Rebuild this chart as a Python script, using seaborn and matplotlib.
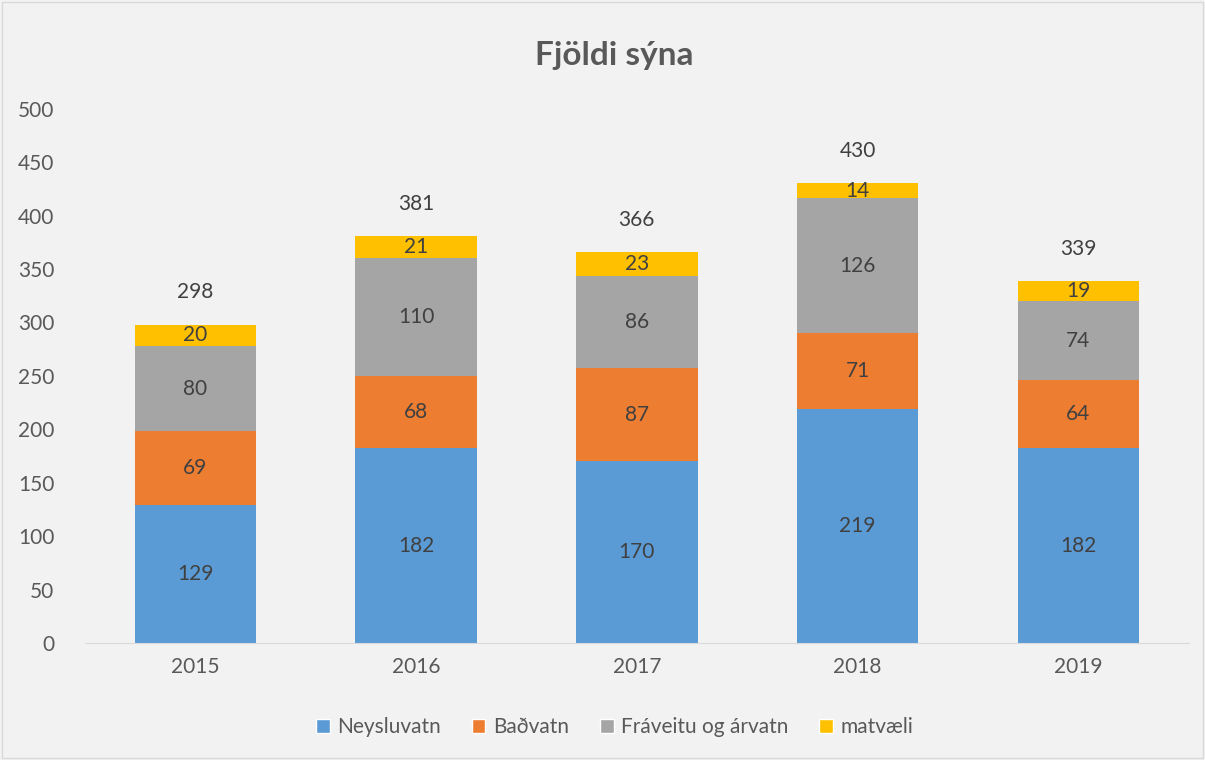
import numpy as np
import pandas as pd
import matplotlib
matplotlib.use("Agg")
import matplotlib.pyplot as plt
import seaborn as sns
from matplotlib.patches import Patch, Rectangle

# === Data ===
years = ["2015", "2016", "2017", "2018", "2019"]
neysluvatn = [129, 182, 170, 219, 182]
badvatn = [69, 68, 87, 71, 64]
fraveitu = [80, 110, 86, 126, 74]
matvaeli = [20, 21, 23, 14, 19]
totals = [298, 381, 366, 430, 339]

series_names = ["Neysluvatn", "Baðvatn", "Fráveitu og árvatn", "matvæli"]
series_colors = ["#5B9BD5", "#ED7D31", "#A5A5A5", "#FFC000"]

TEXT = "#595959"
LABEL = "#404040"
FS = 15

sns.set_style("white")
plt.rcParams["font.family"] = ["Lato", "DejaVu Sans"]

fig = plt.figure(figsize=(12.05, 7.6), dpi=100, facecolor="#F2F2F2")
ax = fig.add_axes([0.0705, 0.154, 0.916, 0.703])
ax.set_facecolor("#F2F2F2")

stack = np.array([neysluvatn, badvatn, fraveitu, matvaeli])
cum = stack.cumsum(axis=0)

# draw the tallest layer first so the lower ones sit on top of it
for i in range(len(series_names) - 1, -1, -1):
    df = pd.DataFrame({"year": years, "value": cum[i]})
    sns.barplot(data=df, x="year", y="value", color=series_colors[i],
                width=0.55, errorbar=None, saturation=1, linewidth=0, ax=ax)

# segment labels
for i in range(len(series_names)):
    for j in range(len(years)):
        mid = cum[i][j] - stack[i][j] / 2
        ax.text(j, mid, str(stack[i][j]), ha="center", va="center",
                fontsize=FS, color=LABEL)

# total labels
for j, t in enumerate(totals):
    ax.text(j, t + 30, str(t), ha="center", va="center",
            fontsize=FS, color=LABEL)

ax.set_ylim(0, 500)
ax.set_xlim(-0.5, 4.5)
ax.set_yticks(range(0, 501, 50))
ax.set_xlabel("")
ax.set_ylabel("")
ax.tick_params(axis="both", colors=TEXT, labelsize=FS, length=0)
ax.tick_params(axis="x", pad=10)
ax.tick_params(axis="y", pad=22)
for s in ["top", "right", "left"]:
    ax.spines[s].set_visible(False)
ax.spines["bottom"].set_color("#D9D9D9")

fig.text(0.51, 0.927, "Fjöldi sýna", ha="center", va="center",
         fontsize=24, fontweight="bold", color=TEXT)

handles = [Patch(facecolor=c, label=n) for c, n in zip(series_colors, series_names)]
fig.legend(handles=handles, loc="center", bbox_to_anchor=(0.51, 0.043),
           ncol=4, frameon=False, fontsize=FS, handlelength=0.65,
           handleheight=0.65, handletextpad=0.35, columnspacing=1.5,
           labelcolor=TEXT)

fig.patches.append(Rectangle((0.002, 0.003), 0.996, 0.994, transform=fig.transFigure,
                             fill=False, edgecolor="#D9D9D9", linewidth=1))

fig.savefig("out.png", dpi=100, facecolor=fig.get_facecolor())
